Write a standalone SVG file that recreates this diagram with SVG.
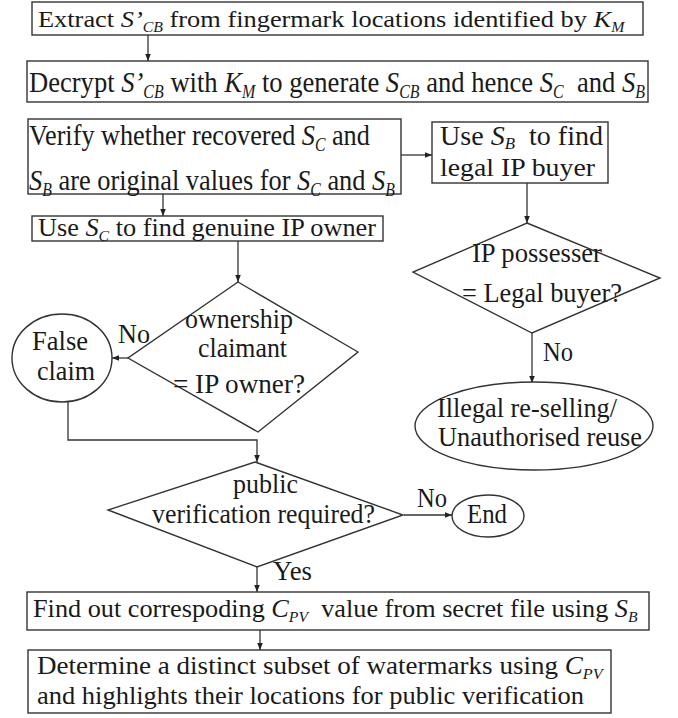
<svg xmlns="http://www.w3.org/2000/svg" width="678" height="718" viewBox="0 0 678 718">
<defs>
<marker id="ah" viewBox="0 0 10 10" refX="10" refY="5" markerWidth="7" markerHeight="8" orient="auto" markerUnits="userSpaceOnUse">
<path d="M0,1 L10,5 L0,9 Z" fill="#222"/>
</marker>
<style>
.b{fill:#fff;stroke:#333;stroke-width:1.4}
.c{fill:none;stroke:#333;stroke-width:1.3}
.a{marker-end:url(#ah)}
text{font-family:"Liberation Serif","Times New Roman",Times,serif;font-size:27px;fill:#1a1a1a}
.i{font-style:italic}
.s{font-size:0.6em;font-style:italic}
</style>
</defs>
<rect width="678" height="718" fill="#fff"/>
<g id="connectors">
<line class="c a" x1="148" y1="35" x2="148" y2="61"/>
<line class="c a" x1="401" y1="155" x2="432" y2="155"/>
<line class="c a" x1="163" y1="194" x2="163" y2="216"/>
<line class="c a" x1="238" y1="241" x2="238" y2="282"/>
<line class="c a" x1="527" y1="183" x2="527" y2="223"/>
<line class="c a" x1="532" y1="333" x2="532" y2="383"/>
<line class="c a" x1="128" y1="358" x2="112" y2="358"/>
<polyline class="c a" points="68,402 68,440 257,440 257,462"/>
<line class="c a" x1="404" y1="515" x2="452" y2="515"/>
<line class="c a" x1="257" y1="567" x2="257" y2="592"/>
<line class="c a" x1="260" y1="630" x2="260" y2="650"/>
<text x="543" y="361" textLength="30" lengthAdjust="spacingAndGlyphs">No</text>
<text x="118" y="343" textLength="32" lengthAdjust="spacingAndGlyphs">No</text>
<text x="417" y="507" textLength="30" lengthAdjust="spacingAndGlyphs">No</text>
<text x="273" y="580" textLength="39" lengthAdjust="spacingAndGlyphs">Yes</text>
</g>
<g id="n1">
<rect class="b" x="32" y="2" width="611" height="33"/>
<text transform="translate(38,27) scale(1.123,1)" style="font-size:23.5px">Extract <tspan class="i">S’</tspan><tspan class="s" dy="5">CB</tspan><tspan dy="-5"> from fingermark locations identified by </tspan><tspan class="i">K</tspan><tspan class="s" dy="5">M</tspan></text>
</g>
<g id="n2">
<rect class="b" x="27" y="61" width="621" height="41"/>
<text transform="translate(29,92) scale(0.886,1)" style="font-size:30px">Decrypt <tspan class="i">S’</tspan><tspan class="s" dy="6">CB</tspan><tspan dy="-6"> with </tspan><tspan class="i">K</tspan><tspan class="s" dy="6">M</tspan><tspan dy="-6"> to generate </tspan><tspan class="i">S</tspan><tspan class="s" dy="6">CB</tspan><tspan dy="-6"> and hence </tspan><tspan class="i">S</tspan><tspan class="s" dy="6">C</tspan><tspan dy="-6">&#160; and </tspan><tspan class="i">S</tspan><tspan class="s" dy="6">B</tspan></text>
</g>
<g id="n3">
<rect class="b" x="28" y="119" width="373" height="75"/>
<text transform="translate(29,145) scale(0.874,1)" style="font-size:30px">Verify whether recovered <tspan class="i">S</tspan><tspan class="s" dy="6">C</tspan><tspan dy="-6"> and</tspan></text>
<text transform="translate(29,190) scale(0.879,1)" style="font-size:30px"><tspan class="i">S</tspan><tspan class="s" dy="6">B</tspan><tspan dy="-6"> are original values for </tspan><tspan class="i">S</tspan><tspan class="s" dy="6">C</tspan><tspan dy="-6"> and </tspan><tspan class="i">S</tspan><tspan class="s" dy="6">B</tspan></text>
</g>
<g id="n4">
<rect class="b" x="32" y="216" width="351" height="25"/>
<text transform="translate(38,236) scale(1.052,1)" style="font-size:25px">Use <tspan class="i">S</tspan><tspan class="s" dy="5">C</tspan><tspan dy="-5"> to find genuine IP owner</tspan></text>
</g>
<g id="n5">
<rect class="b" x="432" y="122" width="176" height="61"/>
<text transform="translate(440,145) scale(1.04,1)">Use <tspan class="i">S</tspan><tspan class="s" dy="4">B</tspan><tspan dy="-4">&#160; to find</tspan></text>
<text x="440" y="176" style="font-size:26px" textLength="155" lengthAdjust="spacingAndGlyphs">legal IP buyer</text>
</g>
<g id="n6">
<polygon class="b" points="527,223 660,278 532,333 413,272"/>
<text x="472" y="262" textLength="130" lengthAdjust="spacingAndGlyphs">IP possesser</text>
<text x="462" y="302" textLength="160" lengthAdjust="spacingAndGlyphs">= Legal buyer?</text>
</g>
<g id="n7">
<ellipse class="b" cx="534" cy="426" rx="119" ry="44"/>
<text x="437" y="417" textLength="180" lengthAdjust="spacingAndGlyphs">Illegal re-selling/</text>
<text x="438" y="446" textLength="204" lengthAdjust="spacingAndGlyphs">Unauthorised reuse</text>
</g>
<g id="n8">
<polygon class="b" points="238,282 358,352 258,432 128,358"/>
<text x="185" y="328" textLength="108" lengthAdjust="spacingAndGlyphs">ownership</text>
<text x="198" y="357" textLength="89" lengthAdjust="spacingAndGlyphs">claimant</text>
<text x="173" y="393" textLength="132" lengthAdjust="spacingAndGlyphs">= IP owner?</text>
</g>
<g id="n9">
<ellipse class="b" cx="62" cy="358" rx="50" ry="44"/>
<text x="32" y="350" textLength="56" lengthAdjust="spacingAndGlyphs">False</text>
<text x="37" y="380" textLength="58" lengthAdjust="spacingAndGlyphs">claim</text>
</g>
<g id="n10">
<polygon class="b" points="255,462 403,515 257,567 108,510"/>
<text x="233" y="493" textLength="65" lengthAdjust="spacingAndGlyphs">public</text>
<text x="152" y="523" textLength="223" lengthAdjust="spacingAndGlyphs">verification required?</text>
</g>
<g id="n11">
<ellipse class="b" cx="488" cy="516" rx="36" ry="21"/>
<text x="467" y="523" textLength="40" lengthAdjust="spacingAndGlyphs">End</text>
</g>
<g id="n12">
<rect class="b" x="27" y="592" width="622" height="38"/>
<text transform="translate(33,617) scale(1.05,1)" style="font-size:25px">Find out correspoding <tspan class="i">C</tspan><tspan class="s" dy="5">PV</tspan><tspan dy="-5">&#160; value from secret file using </tspan><tspan class="i">S</tspan><tspan class="s" dy="5">B</tspan></text>
</g>
<g id="n13">
<rect class="b" x="28" y="650" width="583" height="63"/>
<text transform="translate(37,674) scale(1.04,1)" style="font-size:26px">Determine a distinct subset of watermarks using <tspan class="i">C</tspan><tspan class="s" dy="5">PV</tspan></text>
<text x="37" y="704" style="font-size:26px" textLength="547" lengthAdjust="spacingAndGlyphs">and highlights their locations for public verification</text>
</g>
</svg>
